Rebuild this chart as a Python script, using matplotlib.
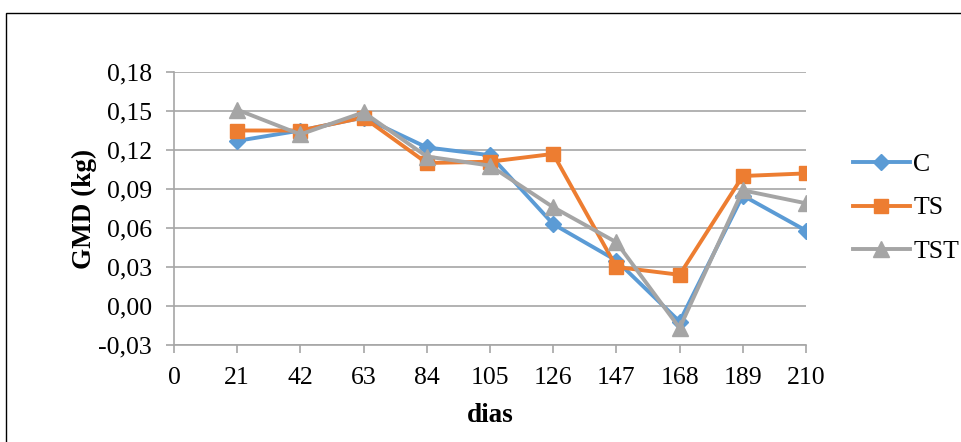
import matplotlib
matplotlib.use("Agg")
import matplotlib.pyplot as plt
from matplotlib.patches import Rectangle

plt.rcParams['font.family'] = ['Liberation Serif', 'DejaVu Serif']

dias = [21, 42, 63, 84, 105, 126, 147, 168, 189, 210]
C = [0.127, 0.135, 0.145, 0.122, 0.116, 0.063, 0.035, -0.012, 0.085, 0.058]
TS = [0.135, 0.135, 0.145, 0.110, 0.111, 0.117, 0.030, 0.024, 0.100, 0.102]
TST = [0.151, 0.132, 0.149, 0.115, 0.108, 0.076, 0.049, -0.017, 0.089, 0.079]
xticks = [0, 21, 42, 63, 84, 105, 126, 147, 168, 189, 210]
yticks = [-0.03, 0.00, 0.03, 0.06, 0.09, 0.12, 0.15, 0.18]

W, H = 962, 442
fig = plt.figure(figsize=(W / 100, H / 100), dpi=100)
ax = fig.add_axes([174 / W, 1 - 345 / H, (806 - 174) / W, (345 - 72) / H])

grid_c = '#a6a6a6'
ax.plot(dias, C, color='#5B9BD5', lw=2.8, marker='D', ms=8.5, label='C', zorder=3)
ax.plot(dias, TS, color='#ED7D31', lw=2.8, marker='s', ms=10, label='TS', zorder=3)
ax.plot(dias, TST, color='#A5A5A5', lw=2.8, marker='^', ms=11, label='TST', zorder=3)

ax.set_xlim(0, 210)
ax.set_ylim(-0.03, 0.18)
ax.set_xticks(xticks)
ax.set_xticklabels([str(v) for v in xticks])
ax.set_yticks(yticks)
ax.set_yticklabels([('%.2f' % v).replace('.', ',') for v in yticks])
ax.yaxis.grid(True, color=grid_c, lw=1.2)
ax.set_axisbelow(True)
for s in ['top', 'right']:
    ax.spines[s].set_visible(False)
for s in ['left', 'bottom']:
    ax.spines[s].set_color(grid_c)
    ax.spines[s].set_linewidth(1.2)
ax.tick_params(axis='both', colors=grid_c, length=6, width=1.2, labelsize=18.5,
               labelcolor='black')
ax.tick_params(axis='y', pad=10)
ax.tick_params(axis='x', pad=10)

ax.set_xlabel('dias', fontsize=19.5, fontweight='bold', labelpad=10)
ax.set_ylabel('GMD (kg)', fontsize=19.5, fontweight='bold', labelpad=1)

leg = fig.legend(loc='center left', bbox_to_anchor=(853 / W, 1 - 208 / H),
                 frameon=False, fontsize=18.5, handlelength=2.2, handletextpad=0.15,
                 labelspacing=0.8, borderpad=0, borderaxespad=0)

fig.patches.append(Rectangle((5.5 / W, -0.1), 1.2, 1 - 12.5 / H + 0.1,
                             transform=fig.transFigure, fill=False,
                             edgecolor='black', lw=1.0))

fig.savefig('out.png', dpi=100)
